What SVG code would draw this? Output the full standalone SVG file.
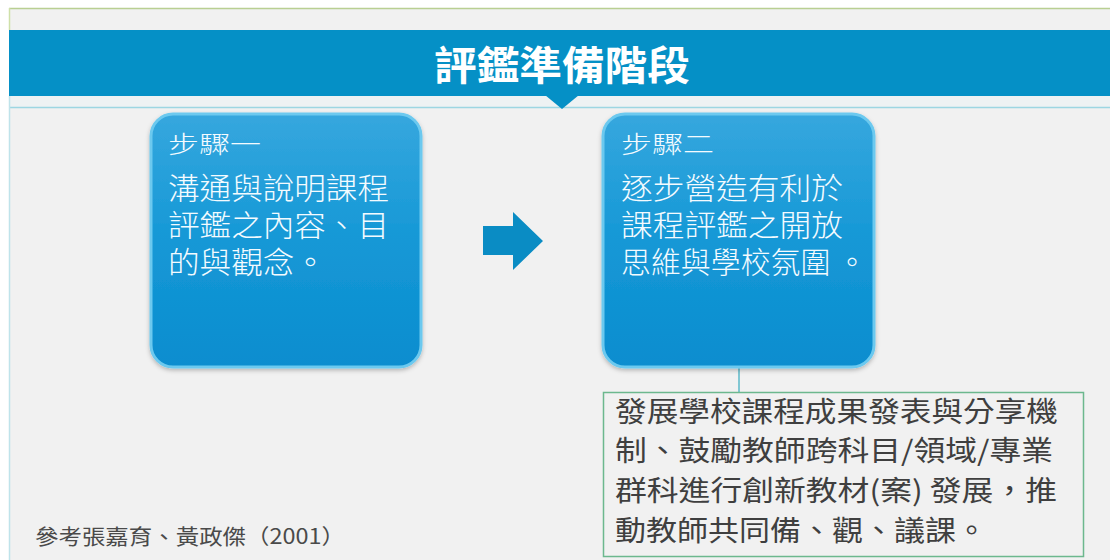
<svg xmlns="http://www.w3.org/2000/svg" width="1110" height="560" viewBox="0 0 1110 560">
  <defs>
    <linearGradient id="boxGrad" x1="0" y1="0" x2="0" y2="1">
      <stop offset="0" stop-color="#36a7de"/>
      <stop offset="0.5" stop-color="#1598d6"/>
      <stop offset="1" stop-color="#0b8dcf"/>
    </linearGradient>
    <filter id="shadow" x="-10%" y="-10%" width="120%" height="120%">
      <feDropShadow dx="0" dy="2" stdDeviation="2" flood-color="#000" flood-opacity="0.25"/>
    </filter>
  </defs>
  <style>
    .box { fill: url(#boxGrad); stroke: #6cc9ef; stroke-width: 3; }
    .boxText { font-family: "Noto Sans CJK TC", "Noto Sans", sans-serif; font-size: 30px; font-weight: 300; fill: #f4fbff; }
    .noteText { font-family: "Noto Sans CJK TC", "Noto Sans", sans-serif; font-size: 28px; fill: #3f3f3f; }
    .title { font-family: "Noto Sans CJK TC", "Noto Sans", sans-serif; font-size: 40px; font-weight: bold; fill: #ffffff; }
    .ref { font-family: "Noto Sans CJK TC", "Noto Sans", sans-serif; font-size: 21px; fill: #4a4a4a; }
  </style>

  <!-- background -->
  <rect x="0" y="0" width="1110" height="560" fill="#ffffff"/>
  <rect x="9" y="8" width="1101" height="552" fill="#f1f1f1"/>
  <line x1="9" y1="8.5" x2="1110" y2="8.5" stroke="#b9cf92" stroke-width="1.5"/>
  <line x1="9.5" y1="8" x2="9.5" y2="30" stroke="#cfe0a8" stroke-width="1.5"/>
  <rect x="9" y="96" width="1101" height="11" fill="#eef2f3"/>
  <line x1="9" y1="107.5" x2="1110" y2="107.5" stroke="#9dd6e2" stroke-width="1.5"/>
  <line x1="9.5" y1="96" x2="9.5" y2="560" stroke="#bfe3ea" stroke-width="1.5"/>

  <!-- banner -->
  <g id="banner">
    <rect x="9" y="30" width="1101" height="66" fill="#0590c6"/>
    <polygon points="545,95 579,95 562,109" fill="#0590c6"/>
    <text class="title" x="562" y="80" text-anchor="middle" textLength="256" lengthAdjust="spacingAndGlyphs">評鑑準備階段</text>
  </g>

  <!-- connectors -->
  <g id="connectors">
    <polygon points="483,226 513,226 513,212 543,241 513,270 513,255 483,255" fill="#0a8cc4"/>
    <line x1="739" y1="368" x2="739" y2="392" stroke="#5bb8c8" stroke-width="1.5"/>
  </g>

  <!-- step 1 -->
  <g id="step1">
    <rect class="box" x="151" y="114" width="270" height="253" rx="22" ry="22" filter="url(#shadow)"/>
    <text class="boxText" transform="translate(168,153) scale(1,0.78)" textLength="93" lengthAdjust="spacingAndGlyphs">步驟一</text>
    <text class="boxText" x="168" y="199" textLength="221" lengthAdjust="spacingAndGlyphs">溝通與說明課程</text>
    <text class="boxText" x="168" y="236" textLength="221" lengthAdjust="spacingAndGlyphs">評鑑之內容、目</text>
    <text class="boxText" x="168" y="273" textLength="158" lengthAdjust="spacingAndGlyphs">的與觀念。</text>
  </g>

  <!-- step 2 -->
  <g id="step2">
    <rect class="box" x="603" y="114" width="271" height="253" rx="22" ry="22" filter="url(#shadow)"/>
    <text class="boxText" transform="translate(621,153) scale(1,0.78)" textLength="93" lengthAdjust="spacingAndGlyphs">步驟二</text>
    <text class="boxText" x="621" y="199" textLength="222" lengthAdjust="spacingAndGlyphs">逐步營造有利於</text>
    <text class="boxText" x="621" y="236" textLength="222" lengthAdjust="spacingAndGlyphs">課程評鑑之開放</text>
    <text class="boxText" x="621" y="273" textLength="246" lengthAdjust="spacingAndGlyphs">思維與學校氛圍 。</text>
  </g>

  <!-- note -->
  <g id="note">
    <rect x="603.5" y="392.5" width="480" height="164" fill="#f1f1f1" stroke="#6cb88e" stroke-width="1.5"/>
    <text class="noteText" x="615" y="422" textLength="443" lengthAdjust="spacingAndGlyphs">發展學校課程成果發表與分享機</text>
    <text class="noteText" x="615" y="461" textLength="438" lengthAdjust="spacingAndGlyphs">制、鼓勵教師跨科目/領域/專業</text>
    <text class="noteText" x="615" y="501" textLength="442" lengthAdjust="spacingAndGlyphs">群科進行創新教材(案) 發展，推</text>
    <text class="noteText" x="615" y="541" textLength="372" lengthAdjust="spacingAndGlyphs">動教師共同備、觀、議課。</text>
  </g>

  <!-- reference -->
  <text class="ref" x="35" y="544" textLength="310" lengthAdjust="spacingAndGlyphs">參考張嘉育、黃政傑（2001）</text>
</svg>
